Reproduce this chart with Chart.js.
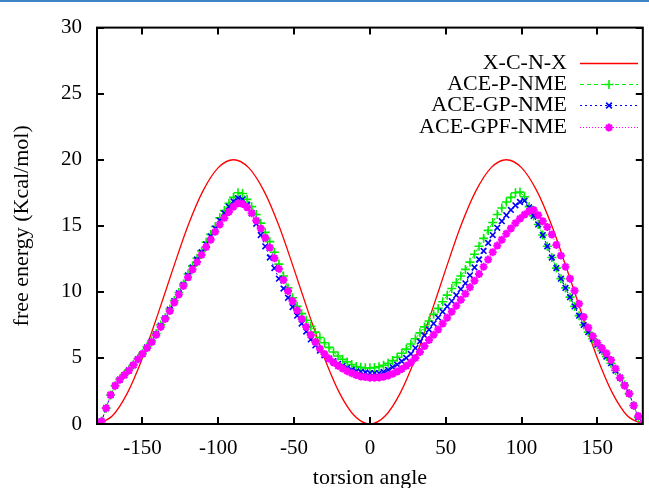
<!DOCTYPE html>
<html>
<head>
<meta charset="utf-8">
<script src="https://cdn.jsdelivr.net/npm/chart.js@4.4.0/dist/chart.umd.min.js"></script>
<style>
  html, body { margin: 0; padding: 0; background: #fff; }
  #wrap { position: relative; width: 649px; height: 488px; }
  #topline { position: absolute; left: 0; top: 0; width: 649px; height: 2px; background: #3f83c5; }
</style>
</head>
<body>
<div id="wrap">
  <canvas id="chart" width="649" height="488"></canvas>
  <div id="topline"></div>
</div>
<script>
// torsion angles of the sampled series (degrees)
const angles = [
  -180, -177, -174, -171, -168, -165, -162, -159, -156, -153,
  -150, -147, -144, -141, -138, -135, -132, -129, -126, -123,
  -120, -117, -114, -111, -108, -105, -102, -99, -96, -93,
  -90, -87, -84, -81, -78, -75, -72, -69, -66, -63,
  -60, -57, -54, -51, -48, -45, -42, -39, -36, -33,
  -30, -27, -24, -21, -18, -15, -12, -9, -6, -3,
  0, 3, 6, 9, 12, 15, 18, 21, 24, 27,
  30, 33, 36, 39, 42, 45, 48, 51, 54, 57,
  60, 63, 66, 69, 72, 75, 78, 81, 84, 87,
  90, 93, 96, 99, 102, 105, 108, 111, 114, 117,
  120, 123, 126, 129, 132, 135, 138, 141, 144, 147,
  150, 153, 156, 159, 162, 165, 168, 171, 174, 177,
  180
];

const aceP = [
  0.0, 0.2, 1.2, 2.2, 2.9, 3.4, 3.75, 4.1, 4.5, 4.95,
  5.35, 5.85, 6.3, 6.85, 7.5, 8.05, 8.7, 9.35, 9.95, 10.6,
  11.35, 11.95, 12.55, 13.1, 13.75, 14.35, 14.95, 15.6, 16.15, 16.7,
  17.15, 17.5, 17.45, 17.0, 16.45, 15.85, 15.2, 14.5, 13.8, 13.0,
  12.1, 11.2, 10.3, 9.55, 8.9, 8.35, 7.85, 7.4, 6.95, 6.55,
  6.15, 5.8, 5.45, 5.15, 4.9, 4.7, 4.5, 4.35, 4.3, 4.25,
  4.25, 4.27, 4.33, 4.45, 4.6, 4.8, 5.05, 5.35, 5.67, 6.05,
  6.45, 6.9, 7.35, 7.8, 8.3, 8.75, 9.25, 9.75, 10.25, 10.7,
  11.2, 11.7, 12.25, 12.85, 13.45, 14.05, 14.65, 15.25, 15.85, 16.35,
  16.8, 17.15, 17.5, 17.55, 17.2, 16.45, 15.75, 15.1, 14.3, 13.45,
  12.6, 11.8, 11.0, 10.3, 9.6, 8.9, 8.2, 7.5, 6.95, 6.45,
  6.0, 5.55, 5.1, 4.6, 4.05, 3.5, 2.95, 2.3, 1.4, 0.5,
  0.0
];

const aceGP = [
  0.0, 0.2, 1.2, 2.2, 2.9, 3.35, 3.7, 4.05, 4.45, 4.9,
  5.3, 5.8, 6.25, 6.8, 7.45, 8.0, 8.65, 9.3, 9.9, 10.55,
  11.25, 11.85, 12.45, 13.0, 13.6, 14.2, 14.8, 15.4, 15.95, 16.45,
  16.85, 17.1, 17.0, 16.6, 15.95, 15.15, 14.3, 13.45, 12.6, 11.8,
  11.0, 10.25, 9.55, 8.85, 8.2, 7.6, 7.0, 6.4, 5.95, 5.55,
  5.2, 4.95, 4.75, 4.55, 4.4, 4.25, 4.1, 4.0, 3.95, 3.9,
  3.85, 3.85, 3.85, 3.95, 4.1, 4.3, 4.5, 4.75, 5.0, 5.3,
  5.75, 6.25, 6.7, 7.15, 7.6, 8.05, 8.5, 8.9, 9.3, 9.75,
  10.2, 10.65, 11.25, 11.85, 12.45, 13.1, 13.7, 14.3, 14.85, 15.35,
  15.8, 16.2, 16.55, 16.8, 16.9, 16.4, 15.75, 15.1, 14.3, 13.45,
  12.6, 11.8, 11.0, 10.3, 9.6, 8.9, 8.2, 7.5, 6.95, 6.45,
  6.0, 5.55, 5.1, 4.6, 4.05, 3.5, 2.95, 2.3, 1.4, 0.5,
  0.0
];

const aceGPF = [
  0.0, 0.2, 1.2, 2.2, 2.9, 3.35, 3.7, 4.05, 4.45, 4.9,
  5.3, 5.75, 6.2, 6.75, 7.35, 7.95, 8.55, 9.2, 9.8, 10.45,
  11.1, 11.7, 12.25, 12.8, 13.4, 13.95, 14.55, 15.1, 15.6, 16.05,
  16.45, 16.7, 16.65, 16.4, 15.95, 15.4, 14.8, 14.1, 13.35, 12.55,
  11.75, 10.9, 10.05, 9.3, 8.6, 7.95, 7.35, 6.75, 6.2, 5.7,
  5.3, 4.95, 4.65, 4.4, 4.2, 4.0, 3.85, 3.7, 3.6, 3.55,
  3.5, 3.5, 3.52, 3.58, 3.67, 3.8, 3.97, 4.17, 4.4, 4.65,
  5.0, 5.45, 5.9, 6.35, 6.75, 7.15, 7.6, 8.05, 8.5, 8.95,
  9.4, 9.85, 10.35, 10.85, 11.35, 11.9, 12.45, 13.0, 13.5, 13.95,
  14.4, 14.8, 15.2, 15.55, 15.85, 16.1, 16.2, 15.8, 15.35, 14.9,
  14.35, 13.55, 12.75, 11.9, 11.0, 10.1, 9.1, 8.1, 7.3, 6.65,
  6.15, 5.75, 5.35, 4.85, 4.2, 3.5, 2.9, 2.3, 1.4, 0.6,
  0.05
];

// model torsion curve, read every 10 degrees
const xcnxAngles = [
  -180, -170, -160, -150, -140, -130, -120, -110, -100, -90,
  -80, -70, -60, -50, -40, -30, -20, -10, 0,
  10, 20, 30, 40, 50, 60, 70, 80, 90,
  100, 110, 120, 130, 140, 150, 160, 170, 180
];
const xcnx = [
  0, 0.6, 2.34, 5, 8.26, 11.7, 15, 17.66, 19.4, 20,
  19.4, 17.66, 15, 11.7, 8.26, 5, 2.34, 0.6, 0,
  0.6, 2.34, 5, 8.26, 11.7, 15, 17.66, 19.4, 20,
  19.4, 17.66, 15, 11.7, 8.26, 5, 2.34, 0.6, 0
];

const xTicks = [-150, -100, -50, 0, 50, 100, 150];
const yTicks = [0, 5, 10, 15, 20, 25, 30];

const serif = "'Liberation Serif', 'DejaVu Serif', serif";

const toPoints = (xs, ys) => xs.map((x, i) => ({ x: x, y: ys[i] }));

// gnuplot-like frame with inward ticks on all four sides, plus the key
const frameAndKey = {
  id: 'frameAndKey',
  afterDraw(chart) {
    const { ctx, chartArea: a, scales } = chart;
    const tick = 7;
    ctx.save();
    ctx.strokeStyle = '#000';
    ctx.lineWidth = 2;
    ctx.strokeRect(a.left, a.top, a.right - a.left, a.bottom - a.top);
    ctx.beginPath();
    xTicks.forEach(v => {
      const px = Math.round(scales.x.getPixelForValue(v));
      ctx.moveTo(px, a.bottom); ctx.lineTo(px, a.bottom - tick);
      ctx.moveTo(px, a.top); ctx.lineTo(px, a.top + tick);
    });
    yTicks.forEach(v => {
      const py = Math.round(scales.y.getPixelForValue(v));
      ctx.moveTo(a.left, py); ctx.lineTo(a.left + tick, py);
      ctx.moveTo(a.right, py); ctx.lineTo(a.right - tick, py);
    });
    ctx.stroke();

    // key
    const textRight = 567, x1 = 580, x2 = 638;
    const rows = [63, 84, 105, 127];
    ctx.font = '22px ' + serif;
    ctx.textAlign = 'right';
    ctx.textBaseline = 'middle';
    chart.data.datasets.forEach((ds, i) => {
      const y = rows[i];
      ctx.fillStyle = '#000';
      ctx.fillText(ds.label, textRight, y);
      ctx.strokeStyle = ds.borderColor;
      ctx.lineWidth = ds.borderWidth;
      ctx.setLineDash(ds.borderDash || []);
      ctx.beginPath();
      ctx.moveTo(x1, y + 0.5);
      ctx.lineTo(x2, y + 0.5);
      ctx.stroke();
      ctx.setLineDash([]);
      if (ds.pointRadius > 0) {
        ctx.lineWidth = ds.pointBorderWidth;
        ctx.fillStyle = ds.borderColor;
        Chart.helpers.drawPoint(ctx, {
          pointStyle: ds.pointStyle,
          radius: ds.pointRadius,
          borderWidth: ds.pointBorderWidth,
          rotation: 0
        }, (x1 + x2) / 2, y + 0.5);
      }
    });
    ctx.restore();
  }
};

new Chart(document.getElementById('chart'), {
  type: 'line',
  data: {
    datasets: [
      {
        label: 'X-C-N-X',
        data: toPoints(xcnxAngles, xcnx),
        borderColor: '#ff0000',
        borderWidth: 1.3,
        pointRadius: 0,
        cubicInterpolationMode: 'monotone',
        order: 4
      },
      {
        label: 'ACE-P-NME',
        data: toPoints(angles, aceP),
        borderColor: '#00ee00',
        backgroundColor: '#00ee00',
        borderWidth: 1,
        borderDash: [4, 3],
        pointStyle: 'cross',
        pointRadius: 4.5,
        pointBorderWidth: 1.6,
        order: 3
      },
      {
        label: 'ACE-GP-NME',
        data: toPoints(angles, aceGP),
        borderColor: '#0000ff',
        backgroundColor: '#0000ff',
        borderWidth: 1,
        borderDash: [2, 3],
        pointStyle: 'crossRot',
        pointRadius: 4,
        pointBorderWidth: 1.6,
        order: 2
      },
      {
        label: 'ACE-GPF-NME',
        data: toPoints(angles, aceGPF),
        borderColor: '#ff00ff',
        backgroundColor: '#ff00ff',
        borderWidth: 1,
        borderDash: [1, 2],
        pointStyle: 'star',
        pointRadius: 4,
        pointBorderWidth: 2.2,
        order: 1
      }
    ]
  },
  options: {
    responsive: false,
    animation: false,
    layout: { padding: { top: 24, right: 2, left: 0, bottom: 0 } },
    plugins: {
      legend: { display: false },
      tooltip: { enabled: false }
    },
    scales: {
      x: {
        type: 'linear',
        min: -180,
        max: 180,
        afterBuildTicks: s => { s.ticks = xTicks.map(v => ({ value: v })); },
        afterFit: s => { s.height = 64; },
        grid: { display: false, drawTicks: false },
        border: { display: false },
        ticks: {
          color: '#000',
          padding: 12,
          maxRotation: 0,
          font: { family: serif, size: 21 }
        },
        title: {
          display: true,
          text: 'torsion angle',
          color: '#000',
          padding: { top: 0, bottom: -3 },
          font: { family: serif, size: 22 }
        }
      },
      y: {
        min: 0,
        max: 30,
        afterBuildTicks: s => { s.ticks = yTicks.map(v => ({ value: v })); },
        afterFit: s => { s.width = 97; },
        grid: { display: false, drawTicks: false },
        border: { display: false },
        ticks: {
          color: '#000',
          padding: 15,
          font: { family: serif, size: 21 }
        },
        title: {
          display: true,
          text: 'free energy (Kcal/mol)',
          color: '#000',
          padding: { top: 9, bottom: 0 },
          font: { family: serif, size: 22 }
        }
      }
    }
  },
  plugins: [frameAndKey]
});
</script>
</body>
</html>
